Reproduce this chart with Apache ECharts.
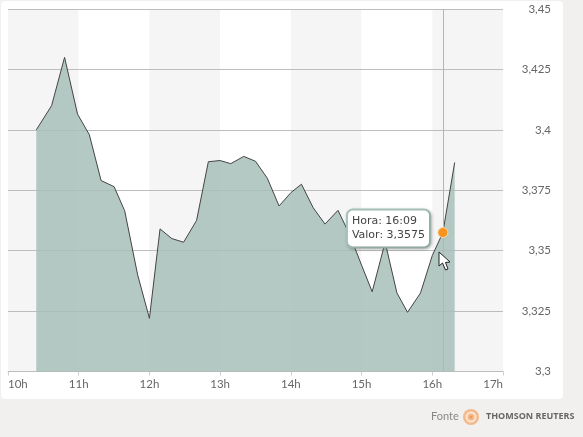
<!DOCTYPE html>
<html><head><meta charset="utf-8">
<style>
html,body{margin:0;padding:0;background:#f1f0ee;overflow:hidden}
#card{position:absolute;left:1px;top:1px;width:562px;height:398px;background:#fff;border-radius:4px}
#c{position:absolute;left:0;top:0;width:583px;height:437px}
</style>
<script src="https://cdn.jsdelivr.net/npm/echarts@6/dist/echarts.min.js"></script>
</head><body><div id="card"></div><div id="c"></div>
<script>
const minutes=[624,637,648,659,669,679,690,699,710,720,729,739,749,760,770,780,789,800,810,820,830,840,849,859,869,880,890,900,909,920,930,939,950,960,969,979];
const values=[3.4,3.41,3.43,3.4065,3.398,3.379,3.3765,3.3665,3.34,3.322,3.359,3.355,3.3535,3.3625,3.3868,3.3873,3.386,3.389,3.387,3.38,3.3685,3.374,3.3775,3.3677,3.361,3.3667,3.3565,3.344,3.333,3.3535,3.3325,3.3245,3.3325,3.348,3.3575,3.3865];
const hoverTime=969, hoverValue=3.3575;
const hoverLabel=['Hora: 16:09','Valor: 3,3575'];
const yTicks=['3,3','3,325','3,35','3,375','3,4','3,425','3,45'];
const font='Lato';
const chart=echarts.init(document.getElementById('c'),null,{renderer:'canvas'});
chart.setOption({
 animation:false,
 backgroundColor:'transparent',
 grid:{left:8,right:80,top:9,bottom:65.5},
 xAxis:{type:'value',min:600,max:1020,interval:60,z:0,
  axisLine:{show:true,onZero:false,lineStyle:{color:'#c9d0d4',width:1}},
  axisTick:{show:true,length:4,lineStyle:{color:'#c9d0d4'}},
  axisLabel:{color:'#666',fontFamily:font,fontSize:11.5,margin:7,alignMinLabel:'left',alignMaxLabel:'right',showMinLabel:true,showMaxLabel:true,
   formatter:v=>(v/60)+'h'},
  splitLine:{show:false},
  splitArea:{show:true,areaStyle:{color:['#f5f5f5','#ffffff']}}},
 yAxis:{type:'value',position:'right',min:3.3,max:3.45,interval:0.025,z:1,
  axisLine:{show:false},axisTick:{show:false},
  axisLabel:{color:'#666',fontFamily:font,fontSize:11.5,align:'right',margin:48,padding:[0,0,4,0],showMinLabel:true,showMaxLabel:true,
   formatter:(v)=>yTicks[Math.round((v-3.3)/0.025)]},
  splitLine:{show:true,lineStyle:{color:'#bdbdbd',width:1}}},
 series:[
 {type:'line',z:1,data:[],symbol:'none',
  markLine:{silent:true,symbol:'none',label:{show:false},lineStyle:{color:'#b5b5b5',width:1,type:'solid'},data:[{xAxis:hoverTime}],animation:false}},
 {type:'line',z:2,data:minutes.map((m,i)=>[m,values[i]]),showSymbol:false,symbol:'none',
  lineStyle:{color:'#444',width:1},
  areaStyle:{color:'#a7c0b9',opacity:0.85},
  markPoint:{silent:true,animation:false,data:[{coord:[hoverTime,hoverValue],symbol:'circle',symbolSize:10,
    itemStyle:{color:'#f7941d',borderColor:'#fbd9a8',borderWidth:1},
    label:{show:true,position:'inside',offset:[-95,-4],formatter:hoverLabel.join('\n'),
     color:'#444',fontFamily:'DejaVu Sans',fontSize:11,lineHeight:14,align:'left',
     backgroundColor:'#fff',borderColor:'#a9c4bd',borderWidth:2,borderRadius:5,
     padding:[4,4,4,4],shadowColor:'rgba(0,0,0,0.25)',shadowBlur:3,shadowOffsetX:1,shadowOffsetY:1}}]}
 }],
 graphic:[
  {type:'polygon',z:100,shape:{points:[[439,252],[439,266],[442.5,263],[445.5,270],[448,269],[445.5,262.5],[450,262]]},style:{fill:'#fff',stroke:'#222',lineWidth:1}},
  {type:'text',z:100,left:431,top:411,style:{text:'Fonte',fill:'#888',font:'11px Lato'}},
  {type:'circle',z:100,shape:{cx:471,cy:417,r:8},style:{fill:'#f4b98a'}},
  {type:'circle',z:101,shape:{cx:471,cy:417,r:4.5},style:{fill:'none',stroke:'#fbe6d4',lineWidth:2}},
  {type:'circle',z:101,shape:{cx:471,cy:417,r:1.5},style:{fill:'#ee9a58'}},
  {type:'text',z:100,left:486,top:412,style:{text:'THOMSON REUTERS',fill:'#666',font:'bold 9px "Open Sans"'}}
 ]
});
</script></body></html>
